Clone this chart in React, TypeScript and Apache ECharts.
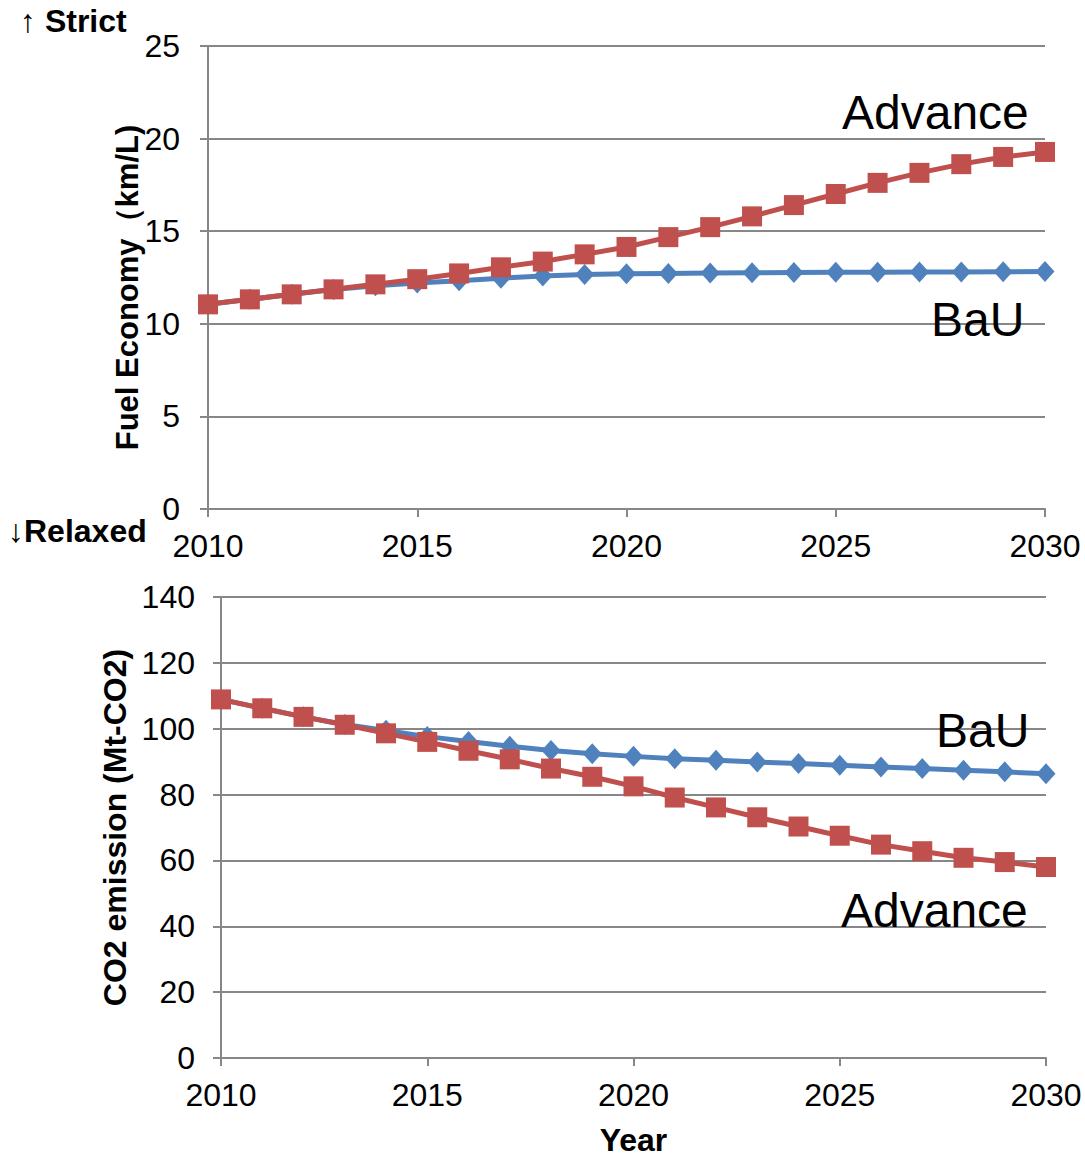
import React, { useEffect, useRef } from "react";
import * as echarts from "echarts";

// Years on the horizontal axis of both panels
const years = [2010, 2011, 2012, 2013, 2014, 2015, 2016, 2017, 2018, 2019, 2020,
  2021, 2022, 2023, 2024, 2025, 2026, 2027, 2028, 2029, 2030];

// Fuel economy (km/L)
const fuelBaU = [11.05, 11.32, 11.59, 11.85, 12.05, 12.2, 12.33, 12.46, 12.58, 12.66, 12.7,
  12.72, 12.74, 12.76, 12.77, 12.78, 12.79, 12.8, 12.8, 12.81, 12.82];
const fuelAdvance = [11.05, 11.32, 11.59, 11.86, 12.13, 12.41, 12.72, 13.05, 13.36, 13.75, 14.15,
  14.68, 15.22, 15.8, 16.41, 17.01, 17.61, 18.15, 18.62, 19.01, 19.28];

// CO2 emission (Mt-CO2)
const co2BaU = [108.9, 106.2, 103.6, 101.3, 99.5, 97.6, 96.1, 94.7, 93.4, 92.4, 91.6,
  90.9, 90.4, 89.9, 89.4, 88.9, 88.4, 87.9, 87.4, 86.9, 86.3];
const co2Advance = [108.9, 106.2, 103.6, 101.2, 98.6, 96.0, 93.3, 90.7, 87.9, 85.4, 82.5,
  79.1, 76.1, 73.1, 70.3, 67.5, 64.8, 62.8, 60.8, 59.5, 58.0];

const fuelTicks = { min: 0, max: 25, interval: 5 };
const co2Ticks = { min: 0, max: 140, interval: 20 };
const yearTicks = { min: 2010, max: 2030, interval: 5 };

const FONT = "'Liberation Sans', Arial, Helvetica, sans-serif";
const RED = "#C0504D";
const BLUE = "#4F81BD";
const GRAY = "#878787";

const pairs = (vals: number[]) => years.map((y, i) => [y, vals[i]]);

export default function App() {
  const ref = useRef<HTMLDivElement>(null);

  useEffect(() => {
    if (!ref.current) return;
    const chart = echarts.init(ref.current, null, { renderer: "svg" });

    const xAxisBase = (gridIndex: number) => ({
      type: "value" as const,
      gridIndex,
      ...yearTicks,
      axisLine: { show: true, lineStyle: { color: GRAY, width: 2 } },
      axisTick: { show: true, length: 8, lineStyle: { color: GRAY, width: 2 } },
      splitLine: { show: false },
      axisLabel: {
        margin: 21,
        color: "#000",
        fontSize: 32,
        fontFamily: FONT,
        formatter: (v: number) => String(v),
      },
    });

    const yAxisBase = (
      gridIndex: number,
      ticks: any,
      name: string,
      nameGap: number,
      nameSize: number,
      labelMargin: number,
      namePadding: number[],
      moveOverlap: boolean,
    ) => ({
      type: "value" as const,
      gridIndex,
      ...ticks,
      name,
      nameLocation: "middle" as const,
      nameGap,
      nameMoveOverlap: moveOverlap,
      nameTextStyle: {
        color: "#000",
        fontSize: nameSize,
        fontWeight: "bold" as const,
        fontFamily: FONT,
        padding: namePadding,
      },
      axisLine: { show: true, lineStyle: { color: GRAY, width: 2 } },
      axisTick: { show: true, length: 8, lineStyle: { color: GRAY, width: 2 } },
      splitLine: { show: true, lineStyle: { color: GRAY, width: 2 } },
      axisLabel: { margin: labelMargin, color: "#000", fontSize: 32, fontFamily: FONT },
    });

    const lineSeries = (name: string, data: number[], idx: number, color: string, symbol: string, size: any, z: number) => ({
      type: "line" as const,
      name,
      xAxisIndex: idx,
      yAxisIndex: idx,
      data: pairs(data),
      symbol,
      symbolSize: size,
      z,
      lineStyle: { color, width: 5 },
      itemStyle: { color },
    });

    const labelText = (text: string, x: number, y: number) => ({
      type: "text" as const,
      left: x,
      top: y,
      style: { text, fontSize: 48, fontFamily: FONT, fill: "#000" },
      z: 100,
    });

    chart.setOption({
      animation: false,
      backgroundColor: "#fff",
      grid: [
        { left: 208, right: 40, top: 46, height: 463 },
        { left: 221, right: 39, top: 597, height: 463 },
      ],
      xAxis: [
        xAxisBase(0),
        {
          ...xAxisBase(1),
          name: "Year",
          nameLocation: "middle",
          nameGap: 66,
          nameTextStyle: { color: "#000", fontSize: 32, fontWeight: "bold", fontFamily: FONT },
        },
      ],
      yAxis: [
        yAxisBase(0, fuelTicks, "Fuel Economy（km/L)", 65, 31, 28, [0, 20, 0, 0], false),
        yAxisBase(1, co2Ticks, "CO2 emission (Mt-CO2)", 88, 32, 26, [0, 0, 0, 0], true),
      ],
      series: [
        lineSeries("BaU", fuelBaU, 0, BLUE, "diamond", [19, 21], 2),
        lineSeries("Advance", fuelAdvance, 0, RED, "rect", 20, 3),
        lineSeries("BaU", co2BaU, 1, BLUE, "diamond", [19, 21], 2),
        lineSeries("Advance", co2Advance, 1, RED, "rect", 20, 3),
      ],
      graphic: [
        labelText("Advance", 842, 88),
        labelText("BaU", 931, 295),
        labelText("BaU", 936, 706),
        labelText("Advance", 841, 886),
        {
          type: "text",
          left: 20,
          top: 5,
          style: { text: "↑ Strict", fontSize: 32, fontWeight: "bold", fontFamily: FONT, fill: "#000" },
        },
        {
          type: "text",
          left: 8,
          top: 515,
          style: { text: "↓Relaxed", fontSize: 32, fontWeight: "bold", fontFamily: FONT, fill: "#000" },
        },
      ],
    });

    return () => chart.dispose();
  }, []);

  return (
    <div
      ref={ref}
      style={{ position: "absolute", left: 0, top: 0, width: 1085, height: 1157 }}
    />
  );
}
